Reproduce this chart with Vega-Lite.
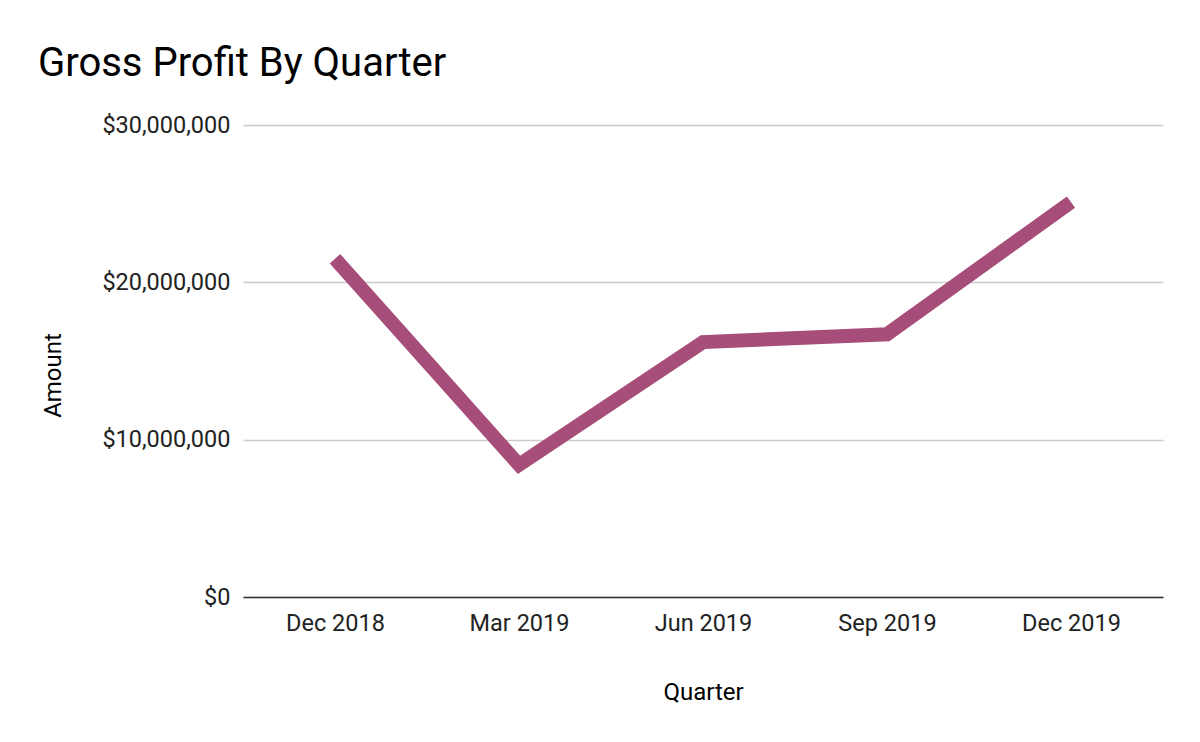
{
  "$schema": "https://vega.github.io/schema/vega-lite/v6.json",
  "width": 920,
  "height": 472,
  "autosize": "none",
  "padding": {"left": 243, "top": 125, "right": 37, "bottom": 145},
  "background": "#ffffff",
  "title": {
    "text": "Gross Profit By Quarter",
    "anchor": "start",
    "frame": "group",
    "dx": -205,
    "offset": 29,
    "font": "Roboto",
    "fontSize": 40,
    "fontWeight": "normal",
    "color": "#000000"
  },
  "data": {
    "values": [
      {"Quarter": "Dec 2018", "Amount": 21500000},
      {"Quarter": "Mar 2019", "Amount": 8400000},
      {"Quarter": "Jun 2019", "Amount": 16200000},
      {"Quarter": "Sep 2019", "Amount": 16700000},
      {"Quarter": "Dec 2019", "Amount": 25100000}
    ]
  },
  "mark": {"type": "line", "color": "#a64d79", "strokeWidth": 14, "strokeCap": "butt", "strokeJoin": "miter"},
  "encoding": {
    "x": {
      "field": "Quarter",
      "type": "ordinal",
      "sort": null,
      "scale": {"type": "point", "padding": 0.5},
      "axis": {
        "title": "Quarter",
        "labelAngle": 0,
        "ticks": false,
        "domain": true,
        "domainColor": "#333333",
        "domainWidth": 1.5,
        "labelPadding": 14,
        "labelFont": "Roboto",
        "labelFontSize": 23.5,
        "labelColor": "#222222",
        "titleFont": "Roboto",
        "titleFontSize": 24,
        "titleFontWeight": "normal",
        "titleColor": "#000000",
        "titleX": 460,
        "titleY": 95,
        "titleBaseline": "middle"
      }
    },
    "y": {
      "field": "Amount",
      "type": "quantitative",
      "scale": {"domain": [0, 30000000]},
      "axis": {
        "title": "Amount",
        "values": [0, 10000000, 20000000, 30000000],
        "format": "$,.0f",
        "ticks": false,
        "domain": false,
        "grid": true,
        "gridColor": "#cccccc",
        "gridWidth": 1.3,
        "labelPadding": 13,
        "labelFont": "Roboto",
        "labelFontSize": 23.5,
        "labelColor": "#222222",
        "titleFont": "Roboto",
        "titleFontSize": 24,
        "titleFontWeight": "normal",
        "titleColor": "#000000",
        "titleX": -190,
        "titleY": 250,
        "titleBaseline": "middle",
        "titleAngle": -90
      }
    }
  },
  "config": {"view": {"stroke": null}}
}
